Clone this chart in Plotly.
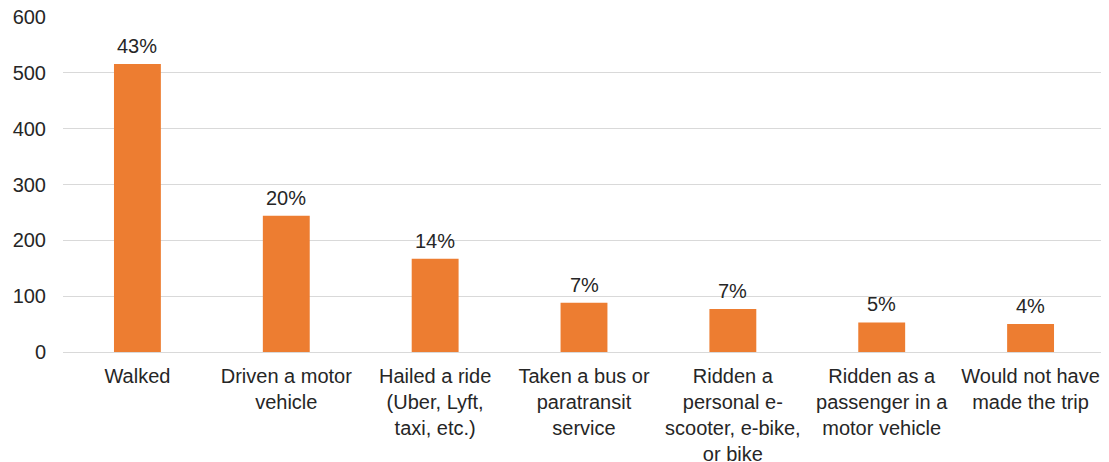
import plotly.graph_objects as go

categories = [
    "Walked",
    "Driven a motor<br>vehicle",
    "Hailed a ride<br>(Uber, Lyft,<br>taxi, etc.)",
    "Taken a bus or<br>paratransit<br>service",
    "Ridden a<br>personal e-<br>scooter, e-bike,<br>or bike",
    "Ridden as a<br>passenger in a<br>motor vehicle",
    "Would not have<br>made the trip",
]
counts = [516, 244, 167, 88, 77, 53, 50]
pct_labels = ["43%", "20%", "14%", "7%", "7%", "5%", "4%"]
y_ticks = [0, 100, 200, 300, 400, 500, 600]

BAR_COLOR = "#ed7d31"
TEXT_COLOR = "#262626"
FONT = "Liberation Sans, Arial, sans-serif"

fig = go.Figure()

fig.add_trace(
    go.Bar(
        x=categories,
        y=counts,
        marker=dict(color=BAR_COLOR, line=dict(width=0)),
        width=0.315,
        showlegend=False,
    )
)

# percentage labels above each bar
for cat, val, lab in zip(categories, counts, pct_labels):
    fig.add_annotation(
        x=cat, y=val, text=lab,
        showarrow=False, yanchor="bottom", yshift=5,
        font=dict(size=20, color=TEXT_COLOR, family=FONT),
    )

# page body adds 8px offset, so margins are shifted to compensate
fig.update_layout(
    width=1109,
    height=462,
    margin=dict(l=55, r=12, t=9, b=118),
    plot_bgcolor="white",
    paper_bgcolor="white",
    font=dict(family=FONT, size=20, color=TEXT_COLOR),
    xaxis=dict(
        automargin=False,
        showgrid=False,
        showline=False,
        ticks="",
        tickangle=0,
        ticklabelstandoff=10,
        tickfont=dict(size=20, color=TEXT_COLOR),
    ),
    yaxis=dict(
        automargin=False,
        range=[0, 600],
        tickvals=y_ticks,
        ticklabeloverflow="allow",
        showgrid=True,
        gridcolor="#d9d9d9",
        gridwidth=1,
        zeroline=True,
        zerolinecolor="#d9d9d9",
        zerolinewidth=1,
        ticks="",
        ticklabelstandoff=16,
        tickfont=dict(size=20, color=TEXT_COLOR),
    ),
)

fig.write_html("out.html")
